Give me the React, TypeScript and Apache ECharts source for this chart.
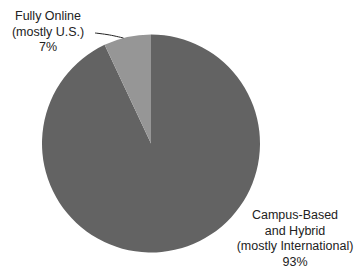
import React, { useEffect, useRef } from "react";
import * as echarts from "echarts";

const categories = [
  "Campus-Based\nand Hybrid\n(mostly International)",
  "Fully Online\n(mostly U.S.)",
];
const values = [93, 7];
const colors = ["#636363", "#969696"];

const CX = 151;
const CY = 143.5;
const R = 109;

export default function App() {
  const ref = useRef<HTMLDivElement>(null);
  useEffect(() => {
    if (!ref.current) return;
    const chart = echarts.init(ref.current, null, { renderer: "svg" });
    const font = "'Liberation Sans', Arial, Helvetica, sans-serif";
    const total = values.reduce((a, b) => a + b, 0);
    // point on the rim of the small slice, a little before its end at 12 o'clock
    const aDeg = 90 + ((values[1] / total) * 360) * 0.58;
    const aRad = (aDeg * Math.PI) / 180;
    const edge = [CX + R * Math.cos(aRad), CY - R * Math.sin(aRad)];
    const end = [95, 33];
    chart.setOption({
      animation: false,
      backgroundColor: "#ffffff",
      graphic: [
        {
          type: "polyline",
          z: 10,
          shape: {
            points: [end, [(end[0] + edge[0]) / 2, (end[1] + edge[1]) / 2 - 0.6], edge],
            smooth: 0.4,
          },
          style: { stroke: "#222222", lineWidth: 1, fill: "none" },
        },
      ],
      series: [
        {
          type: "pie",
          center: [CX, CY],
          radius: R,
          startAngle: 90,
          clockwise: true,
          avoidLabelOverlap: false,
          data: categories.map((name, i) => ({
            name,
            value: values[i],
            itemStyle: { color: colors[i] },
          })),
          label: {
            show: true,
            formatter: "{b}\n{c}%",
            fontFamily: font,
            fontSize: 12.5,
            lineHeight: 15.5,
            color: "#222222",
            align: "center",
          },
          labelLine: { show: false },
          labelLayout: (params: any) =>
            params.dataIndex === 0
              ? { x: 295, y: 238.5, align: "center", verticalAlign: "middle" }
              : { x: 48, y: 31.5, align: "center", verticalAlign: "middle" },
          emphasis: { disabled: true },
        },
      ],
    });
    return () => chart.dispose();
  }, []);
  return (
    <div
      ref={ref}
      style={{ position: "absolute", left: 0, top: 0, width: 354, height: 269 }}
    />
  );
}
